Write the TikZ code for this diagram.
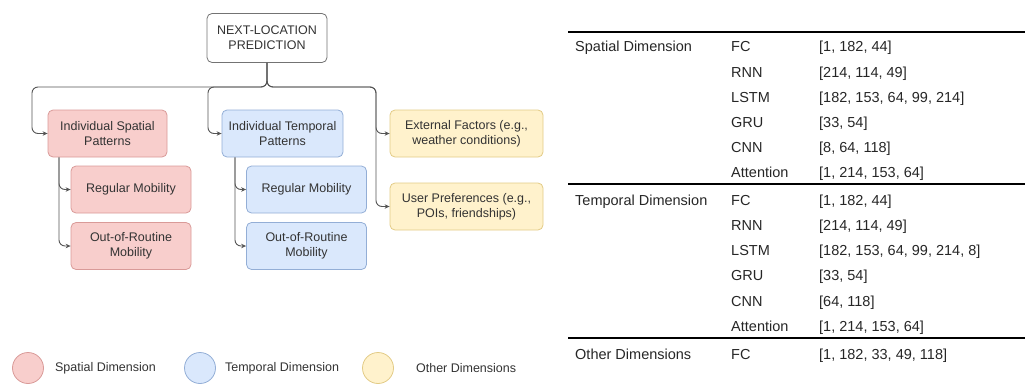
\documentclass[tikz,border=0pt]{standalone}
\usepackage{fontspec}
\setmainfont{Liberation Sans}
\usetikzlibrary{positioning}
\usetikzlibrary{arrows.meta}

\definecolor{spatialfill}{HTML}{F8CECC}
\definecolor{spatialline}{HTML}{D99A98}
\definecolor{temporalfill}{HTML}{DAE8FC}
\definecolor{temporalline}{HTML}{93AED6}
\definecolor{otherfill}{HTML}{FFF2CC}
\definecolor{otherline}{HTML}{E2CB86}
\definecolor{linegray}{HTML}{555555}
\definecolor{textgray}{HTML}{333333}

\newcommand{\diagfont}{\fontsize{12.5}{15}\selectfont}
\newcommand{\tabfont}{\fontsize{14.5}{17}\selectfont}

\tikzset{
  box/.style={rectangle, rounded corners=5pt, draw, line width=0.8pt, align=center,
    text=textgray, font=\diagfont, minimum width=120pt, minimum height=47pt, inner sep=0pt},
  rootbox/.style={box, fill=white, draw=black!55, minimum height=49pt},
  spatialbox/.style={box, fill=spatialfill, draw=spatialline},
  temporalbox/.style={box, fill=temporalfill, draw=temporalline},
  otherbox/.style={box, fill=otherfill, draw=otherline, minimum width=153pt},
  link/.style={draw=linegray, line width=0.9pt, rounded corners=6pt},
  arr/.style={link, -{Stealth[length=5pt,width=4.5pt]}},
  legcircle/.style={circle, draw, line width=0.8pt, minimum size=31pt, inner sep=0pt},
  legtext/.style={font=\diagfont, text=textgray, inner sep=0pt},
  cell/.style={anchor=base west, font=\tabfont, text=black!85, inner sep=0pt},
  tablerule/.style={line width=1.6pt, black}
}

\begin{document}
\begin{tikzpicture}[x=1pt,y=-1pt]
\useasboundingbox (0,0) rectangle (1025,383);

% tree of factors
\node[rootbox] (root) at (267,38) {NEXT-LOCATION\\PREDICTION};

\node[spatialbox, minimum width=119pt] (isp) at (107.5,133.5) {Individual Spatial\\Patterns};
\node[spatialbox] (sreg) at (131,189.5) {Regular Mobility};
\node[spatialbox] (sout) at (131,246) {Out-of-Routine\\Mobility};

\node[temporalbox, minimum width=121pt] (itp) at (282.5,133.5) {Individual Temporal\\Patterns};
\node[temporalbox] (treg) at (306.5,189.5) {Regular Mobility};
\node[temporalbox] (tout) at (306.5,246) {Out-of-Routine\\Mobility};

\node[otherbox] (ext) at (466.5,133.5) {External Factors (e.g.,\\weather conditions)};
\node[otherbox] (upref) at (466.5,206.5) {User Preferences (e.g.,\\POIs, friendships)};

\draw[arr] (root.south) |- (32,87) |- (isp.west);
\draw[arr] (root.south) |- (208,87) |- (itp.west);
\draw[arr] (root.south) |- (376,87) |- (ext.west);
\draw[arr] (root.south) |- (376,87) |- (upref.west);

\draw[arr] (isp.south -| 59,0) |- (sreg.west);
\draw[arr] (isp.south -| 59,0) |- (sout.west);
\draw[arr] (itp.south -| 235,0) |- (treg.west);
\draw[arr] (itp.south -| 235,0) |- (tout.west);

% legend
\node[legcircle, fill=spatialfill, draw=spatialline] (lsp) at (28,368) {};
\node[legtext, right=11pt of lsp] (lsptext) {Spatial Dimension};
\node[legcircle, fill=temporalfill, draw=temporalline] (ltp) at (200,368) {};
\node[legtext, right=9pt of ltp] (ltptext) {Temporal Dimension};
\node[legcircle, fill=otherfill, draw=otherline] (lot) at (378,368) {};
\node[legtext, right=22pt of lot] (lottext) {Other Dimensions};

% table of models
\draw[tablerule] (568,32) -- (1025,32);
\node[cell] (sdim) at (575,51) {Spatial Dimension};
\node[cell] (sfc) at (731,51) {FC};
\node[cell] (sfcref) at (819,51) {[1, 182, 44]};
\node[cell] (srnn) at (731,77) {RNN};
\node[cell] (srnnref) at (819,77) {[214, 114, 49]};
\node[cell] (slstm) at (731,102) {LSTM};
\node[cell] (slstmref) at (819,102) {[182, 153, 64, 99, 214]};
\node[cell] (sgru) at (731,127) {GRU};
\node[cell] (sgruref) at (819,127) {[33, 54]};
\node[cell] (scnn) at (731,152) {CNN};
\node[cell] (scnnref) at (819,152) {[8, 64, 118]};
\node[cell] (satt) at (731,177) {Attention};
\node[cell] (sattref) at (819,177) {[1, 214, 153, 64]};

\draw[tablerule] (568,184) -- (1025,184);
\node[cell] (tdim) at (575,205) {Temporal Dimension};
\node[cell] (tfc) at (731,205) {FC};
\node[cell] (tfcref) at (819,205) {[1, 182, 44]};
\node[cell] (trnn) at (731,230) {RNN};
\node[cell] (trnnref) at (819,230) {[214, 114, 49]};
\node[cell] (tlstm) at (731,255) {LSTM};
\node[cell] (tlstmref) at (819,255) {[182, 153, 64, 99, 214, 8]};
\node[cell] (tgru) at (731,280) {GRU};
\node[cell] (tgruref) at (819,280) {[33, 54]};
\node[cell] (tcnn) at (731,306) {CNN};
\node[cell] (tcnnref) at (819,306) {[64, 118]};
\node[cell] (tatt) at (731,331) {Attention};
\node[cell] (tattref) at (819,331) {[1, 214, 153, 64]};

\draw[tablerule] (568,338) -- (1025,338);
\node[cell] (odim) at (575,359) {Other Dimensions};
\node[cell] (ofc) at (731,359) {FC};
\node[cell] (ofcref) at (819,359) {[1, 182, 33, 49, 118]};

\end{tikzpicture}
\end{document}
